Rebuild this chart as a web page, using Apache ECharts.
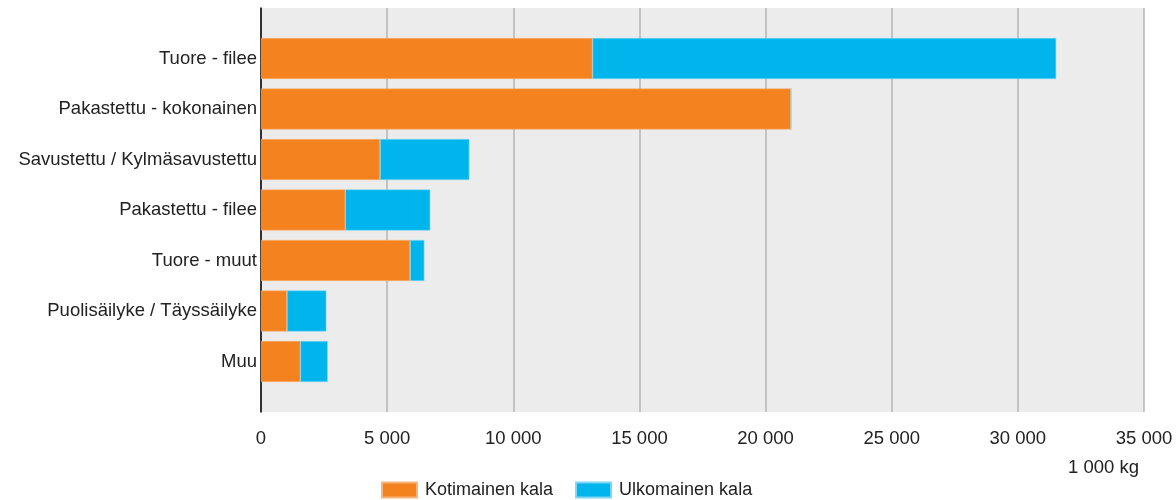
<!DOCTYPE html>
<html>
<head>
<meta charset="utf-8">
<script src="https://cdn.jsdelivr.net/npm/echarts@6/dist/echarts.min.js"></script>
<style>
  html, body { margin: 0; padding: 0; background: #ffffff; }
  #chart { width: 1176px; height: 500px; }
</style>
</head>
<body>
<div id="chart"></div>
<script>
// Kalatuotteiden myynti tuoteryhmittäin (1 000 kg)
const categories = [
  'Tuore - filee',
  'Pakastettu - kokonainen',
  'Savustettu / Kylmäsavustettu',
  'Pakastettu - filee',
  'Tuore - muut',
  'Puolisäilyke / Täyssäilyke',
  'Muu'
];
const kotimainen = [13140, 21010, 4720, 3340, 5910, 1030, 1560];
const ulkomainen = [18380, 0, 3540, 3370, 565, 1560, 1085];
const seriesNames = ['Kotimainen kala', 'Ulkomainen kala'];
const xTicks = { min: 0, max: 35000, step: 5000 };
const unitLabel = '1 000 kg';

const fmt = v => String(v).replace(/\B(?=(\d{3})+(?!\d))/g, ' ');
const FONT = 'Liberation Sans, Arial, sans-serif';
const FS = 18.5;

const chart = echarts.init(document.getElementById('chart'), null, { renderer: 'canvas' });

chart.setOption({
  animation: false,
  textStyle: { fontFamily: FONT },
  grid: [
    // background panel with vertical gridlines and tick labels
    { left: 261, right: 32, top: 8, bottom: 88, show: true, backgroundColor: '#ececec', borderWidth: 0 },
    // bar area
    { left: 261, right: 32, top: 33.25, bottom: 113.25 }
  ],
  xAxis: [
    {
      gridIndex: 0, type: 'value', min: xTicks.min, max: xTicks.max, interval: xTicks.step,
      axisLine: { show: false }, axisTick: { show: false },
      splitLine: { show: true, lineStyle: { color: '#b4b4b4', width: 1.5 } },
      axisLabel: { formatter: fmt, color: '#222', fontSize: FS, fontFamily: FONT, margin: 17 }
    },
    {
      gridIndex: 1, type: 'value', min: xTicks.min, max: xTicks.max, interval: xTicks.step,
      show: false
    }
  ],
  yAxis: [
    {
      gridIndex: 0, type: 'value', min: 0, max: 1,
      axisLine: { show: true, onZero: false, lineStyle: { color: '#000', width: 1.5 } },
      axisTick: { show: false }, axisLabel: { show: false }, splitLine: { show: false }
    },
    {
      gridIndex: 1, type: 'category', data: categories, inverse: true,
      axisLine: { show: false }, axisTick: { show: false }, splitLine: { show: false },
      axisLabel: { color: '#222', fontSize: FS, fontFamily: FONT, margin: 4 }
    }
  ],
  legend: {
    data: seriesNames,
    left: 376, top: 476,
    itemWidth: 35, itemHeight: 15, itemGap: 22,
    icon: 'rect',
    textStyle: { color: '#222', fontSize: 18, fontFamily: FONT, padding: [0, 0, 0, 3] }
  },
  graphic: [
    {
      type: 'text', right: 37, top: 458,
      style: { text: unitLabel, fill: '#222', font: FS + 'px ' + FONT, textAlign: 'right' }
    }
  ],
  series: [
    {
      name: seriesNames[0], type: 'bar', stack: 'total', xAxisIndex: 1, yAxisIndex: 1,
      data: kotimainen, barWidth: 41,
      itemStyle: { color: '#F4831F', borderColor: '#f8b47a', borderWidth: 0.6 }
    },
    {
      name: seriesNames[1], type: 'bar', stack: 'total', xAxisIndex: 1, yAxisIndex: 1,
      data: ulkomainen, barWidth: 41,
      itemStyle: { color: '#00B4EC', borderColor: '#7fd6f3', borderWidth: 0.6 }
    }
  ]
});
</script>
</body>
</html>
